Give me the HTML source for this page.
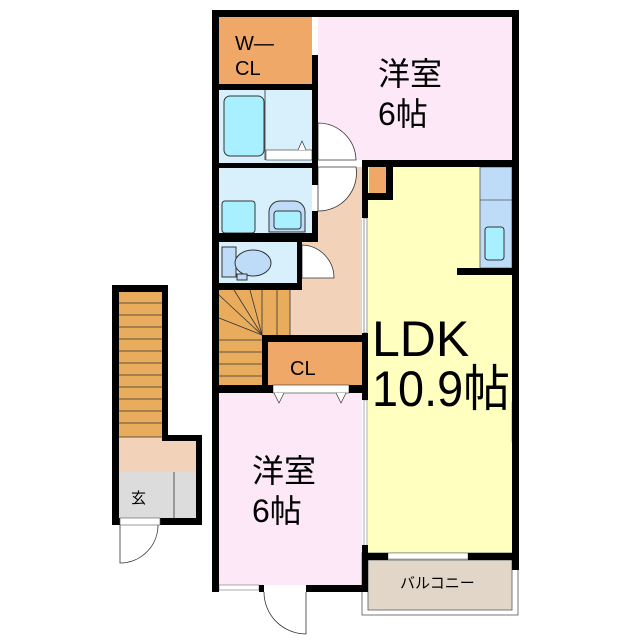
<!DOCTYPE html>
<html><head><meta charset="utf-8"><style>
html,body{margin:0;padding:0;background:#fff;}
svg{display:block;}
text{font-family:"Liberation Sans","Noto Sans CJK JP",sans-serif;fill:#000;}
</style></head><body>
<svg width="640" height="640" viewBox="0 0 640 640" xmlns="http://www.w3.org/2000/svg">
<rect x="318" y="17" width="194" height="143" fill="#FDE8F8"/>
<rect x="219" y="17" width="93" height="67" fill="#F0A868"/>
<rect x="219" y="90" width="93" height="73" fill="#D8F0FC"/>
<rect x="219" y="167" width="93" height="66" fill="#D8F0FC"/>
<rect x="219" y="242" width="78" height="41" fill="#D8F0FC"/>
<rect x="318" y="167" width="44" height="75" fill="#F2D2B8"/>
<rect x="302" y="240" width="60" height="52" fill="#F2D2B8"/>
<rect x="290" y="290" width="72" height="45" fill="#F2D2B8"/>
<rect x="219" y="290" width="71" height="95" fill="#E8AC5C"/>
<rect x="268" y="342" width="94" height="43" fill="#F0A868"/>
<rect x="219" y="393" width="143" height="192" fill="#FDE8F8"/>
<rect x="368" y="167" width="144" height="386" fill="#FFFFC0"/>
<rect x="369" y="167" width="17" height="26" fill="#F0A868"/>
<rect x="480" y="167" width="32" height="101" fill="#BEDCF8" stroke="#555" stroke-width="0.8"/>
<line x1="480" y1="200" x2="512" y2="200" stroke="#555" stroke-width="0.8"/>
<rect x="485" y="227" width="19" height="33" rx="3" fill="#A8F0FF" stroke="#333"/>
<rect x="368" y="560" width="144" height="50" fill="#E2D6C8" stroke="#777"/>
<rect x="362" y="553" width="156" height="62" fill="none" stroke="#777"/>
<rect x="119" y="292" width="43" height="145" fill="#E8AC5C"/>
<rect x="119" y="437" width="77" height="35" fill="#F2D2B8"/>
<rect x="119" y="472" width="77" height="46" fill="#DCDCDC"/>
<line x1="174" y1="472" x2="174" y2="518" stroke="#555"/>
<g stroke="#333" stroke-width="0.8">
<line x1="119" y1="303" x2="162" y2="303"/><line x1="119" y1="315" x2="162" y2="315"/><line x1="119" y1="327" x2="162" y2="327"/><line x1="119" y1="339" x2="162" y2="339"/><line x1="119" y1="351" x2="162" y2="351"/><line x1="119" y1="363" x2="162" y2="363"/><line x1="119" y1="375" x2="162" y2="375"/><line x1="119" y1="387" x2="162" y2="387"/><line x1="119" y1="399" x2="162" y2="399"/><line x1="119" y1="411" x2="162" y2="411"/><line x1="119" y1="423" x2="162" y2="423"/><line x1="119" y1="437" x2="162" y2="437"/>
<line x1="262" y1="290" x2="262" y2="335"/><line x1="277" y1="290" x2="277" y2="335"/><line x1="290" y1="290" x2="290" y2="335"/>
<line x1="219" y1="340" x2="262" y2="340"/><line x1="219" y1="352" x2="262" y2="352"/><line x1="219" y1="364" x2="262" y2="364"/><line x1="219" y1="376" x2="262" y2="376"/>
<line x1="262" y1="335" x2="219" y2="295"/><line x1="262" y1="335" x2="219" y2="318"/><line x1="262" y1="335" x2="250" y2="290"/><line x1="262" y1="335" x2="234" y2="290"/>
</g>
<rect x="224" y="96" width="40" height="60" rx="6" fill="#A8F0FF" stroke="#333"/>
<line x1="265" y1="90" x2="265" y2="160" stroke="#555"/>
<rect x="222" y="201" width="33" height="32" rx="3" fill="#A8F0FF" stroke="#333"/>
<path d="M269 232 v-20 a11 11 0 0 1 11 -11 h14 a11 11 0 0 1 11 11 v20 z" fill="#BEDCF8" stroke="#333"/>
<rect x="274" y="211" width="27" height="18" rx="3" fill="#A8F0FF" stroke="#333"/>
<rect x="222" y="247" width="14" height="30" fill="#BEDCF8" stroke="#333"/>
<ellipse cx="253" cy="263" rx="18" ry="13" fill="#BEDCF8" stroke="#333"/>
<rect x="237" y="274" width="10" height="6" fill="#BEDCF8" stroke="#333"/>
<g fill="#fff" stroke="#333" stroke-width="0.8">
<path d="M318 123 a38 38 0 0 1 38 37 h-38 z"/>
<path d="M318 211 a38 38 0 0 0 38 -44 h-38 z"/>
<path d="M302 245 a33 33 0 0 1 32 33 h-32 z"/>
<path d="M120 525 v38 a38 38 0 0 0 38 -38" fill="none"/>
<path d="M306 592 v42 a42 42 0 0 1 -42 -42" fill="none"/>
</g>
<rect x="266" y="150" width="46" height="10" fill="#fff" stroke="#333" stroke-width="0.6"/>
<path d="M298 150 l4 -9 l4 9" fill="#fff" stroke="#333" stroke-width="0.7"/>
<rect x="273" y="385" width="76" height="8" fill="#fff" stroke="#333" stroke-width="0.6"/>
<path d="M274 393 l5 10 l5 -10 M336 393 l5 10 l5 -10" fill="#fff" stroke="#333" stroke-width="0.7"/>
<rect x="364" y="218" width="3" height="115" fill="#fff" stroke="#555" stroke-width="0.6"/>
<rect x="364" y="400" width="3" height="150" fill="#fff" stroke="#777" stroke-width="0.6"/>
<rect x="512" y="402" width="5" height="40" fill="#fff" stroke="#777" stroke-width="0.6"/>
<rect x="388" y="553" width="80" height="6" fill="#fff" stroke="#777" stroke-width="0.6"/>
<rect x="219" y="585" width="40" height="5" fill="#fff" stroke="#777" stroke-width="0.6"/>
<g fill="#000">
<rect x="212" y="10" width="307" height="7"/>
<rect x="212" y="10" width="7" height="582"/>
<rect x="512" y="10" width="7" height="560"/>
<rect x="312" y="55" width="6" height="112"/>
<rect x="219" y="84" width="93" height="6"/>
<rect x="362" y="160" width="157" height="7"/>
<rect x="219" y="163" width="99" height="5"/>
<rect x="312" y="167" width="6" height="18"/>
<rect x="312" y="211" width="6" height="29"/>
<rect x="219" y="233" width="99" height="9"/>
<rect x="212" y="283" width="90" height="7"/>
<rect x="297" y="242" width="5" height="48"/>
<rect x="362" y="160" width="6" height="58"/>
<rect x="386" y="160" width="7" height="40"/>
<rect x="362" y="193" width="31" height="7"/>
<rect x="457" y="268" width="62" height="7"/>
<rect x="362" y="333" width="6" height="67"/>
<rect x="262" y="335" width="106" height="7"/>
<rect x="262" y="335" width="6" height="50"/>
<rect x="212" y="385" width="61" height="8"/>
<rect x="349" y="385" width="19" height="8"/>
<rect x="362" y="545" width="6" height="47"/>
<rect x="362" y="553" width="26" height="7"/>
<rect x="468" y="553" width="51" height="7"/>
<rect x="259" y="585" width="5" height="7"/>
<rect x="306" y="585" width="62" height="7"/>
<rect x="212" y="585" width="7" height="7"/>
<rect x="112" y="285" width="56" height="7"/>
<rect x="112" y="285" width="7" height="240"/>
<rect x="162" y="285" width="6" height="156"/>
<rect x="162" y="435" width="40" height="6"/>
<rect x="196" y="435" width="6" height="90"/>
<rect x="112" y="518" width="90" height="7"/>
</g>
<rect x="120" y="518" width="40" height="7" fill="#fff" stroke="#555" stroke-width="0.6"/>
<text x="235" y="50" font-size="20">W—</text>
<text x="235" y="75" font-size="20">CL</text>
<text x="378" y="85" font-size="32">洋室</text>
<text x="378" y="125" font-size="32">6帖</text>
<text x="290" y="375" font-size="20">CL</text>
<text x="372" y="356" font-size="50">LDK</text>
<text x="372" y="406" font-size="50" textLength="138" lengthAdjust="spacingAndGlyphs">10.9帖</text>
<text x="252" y="482" font-size="32">洋室</text>
<text x="252" y="522" font-size="32">6帖</text>
<text x="400" y="588" font-size="15">バルコニー</text>
<text x="131" y="503" font-size="15">玄</text>
</svg>
</body></html>
